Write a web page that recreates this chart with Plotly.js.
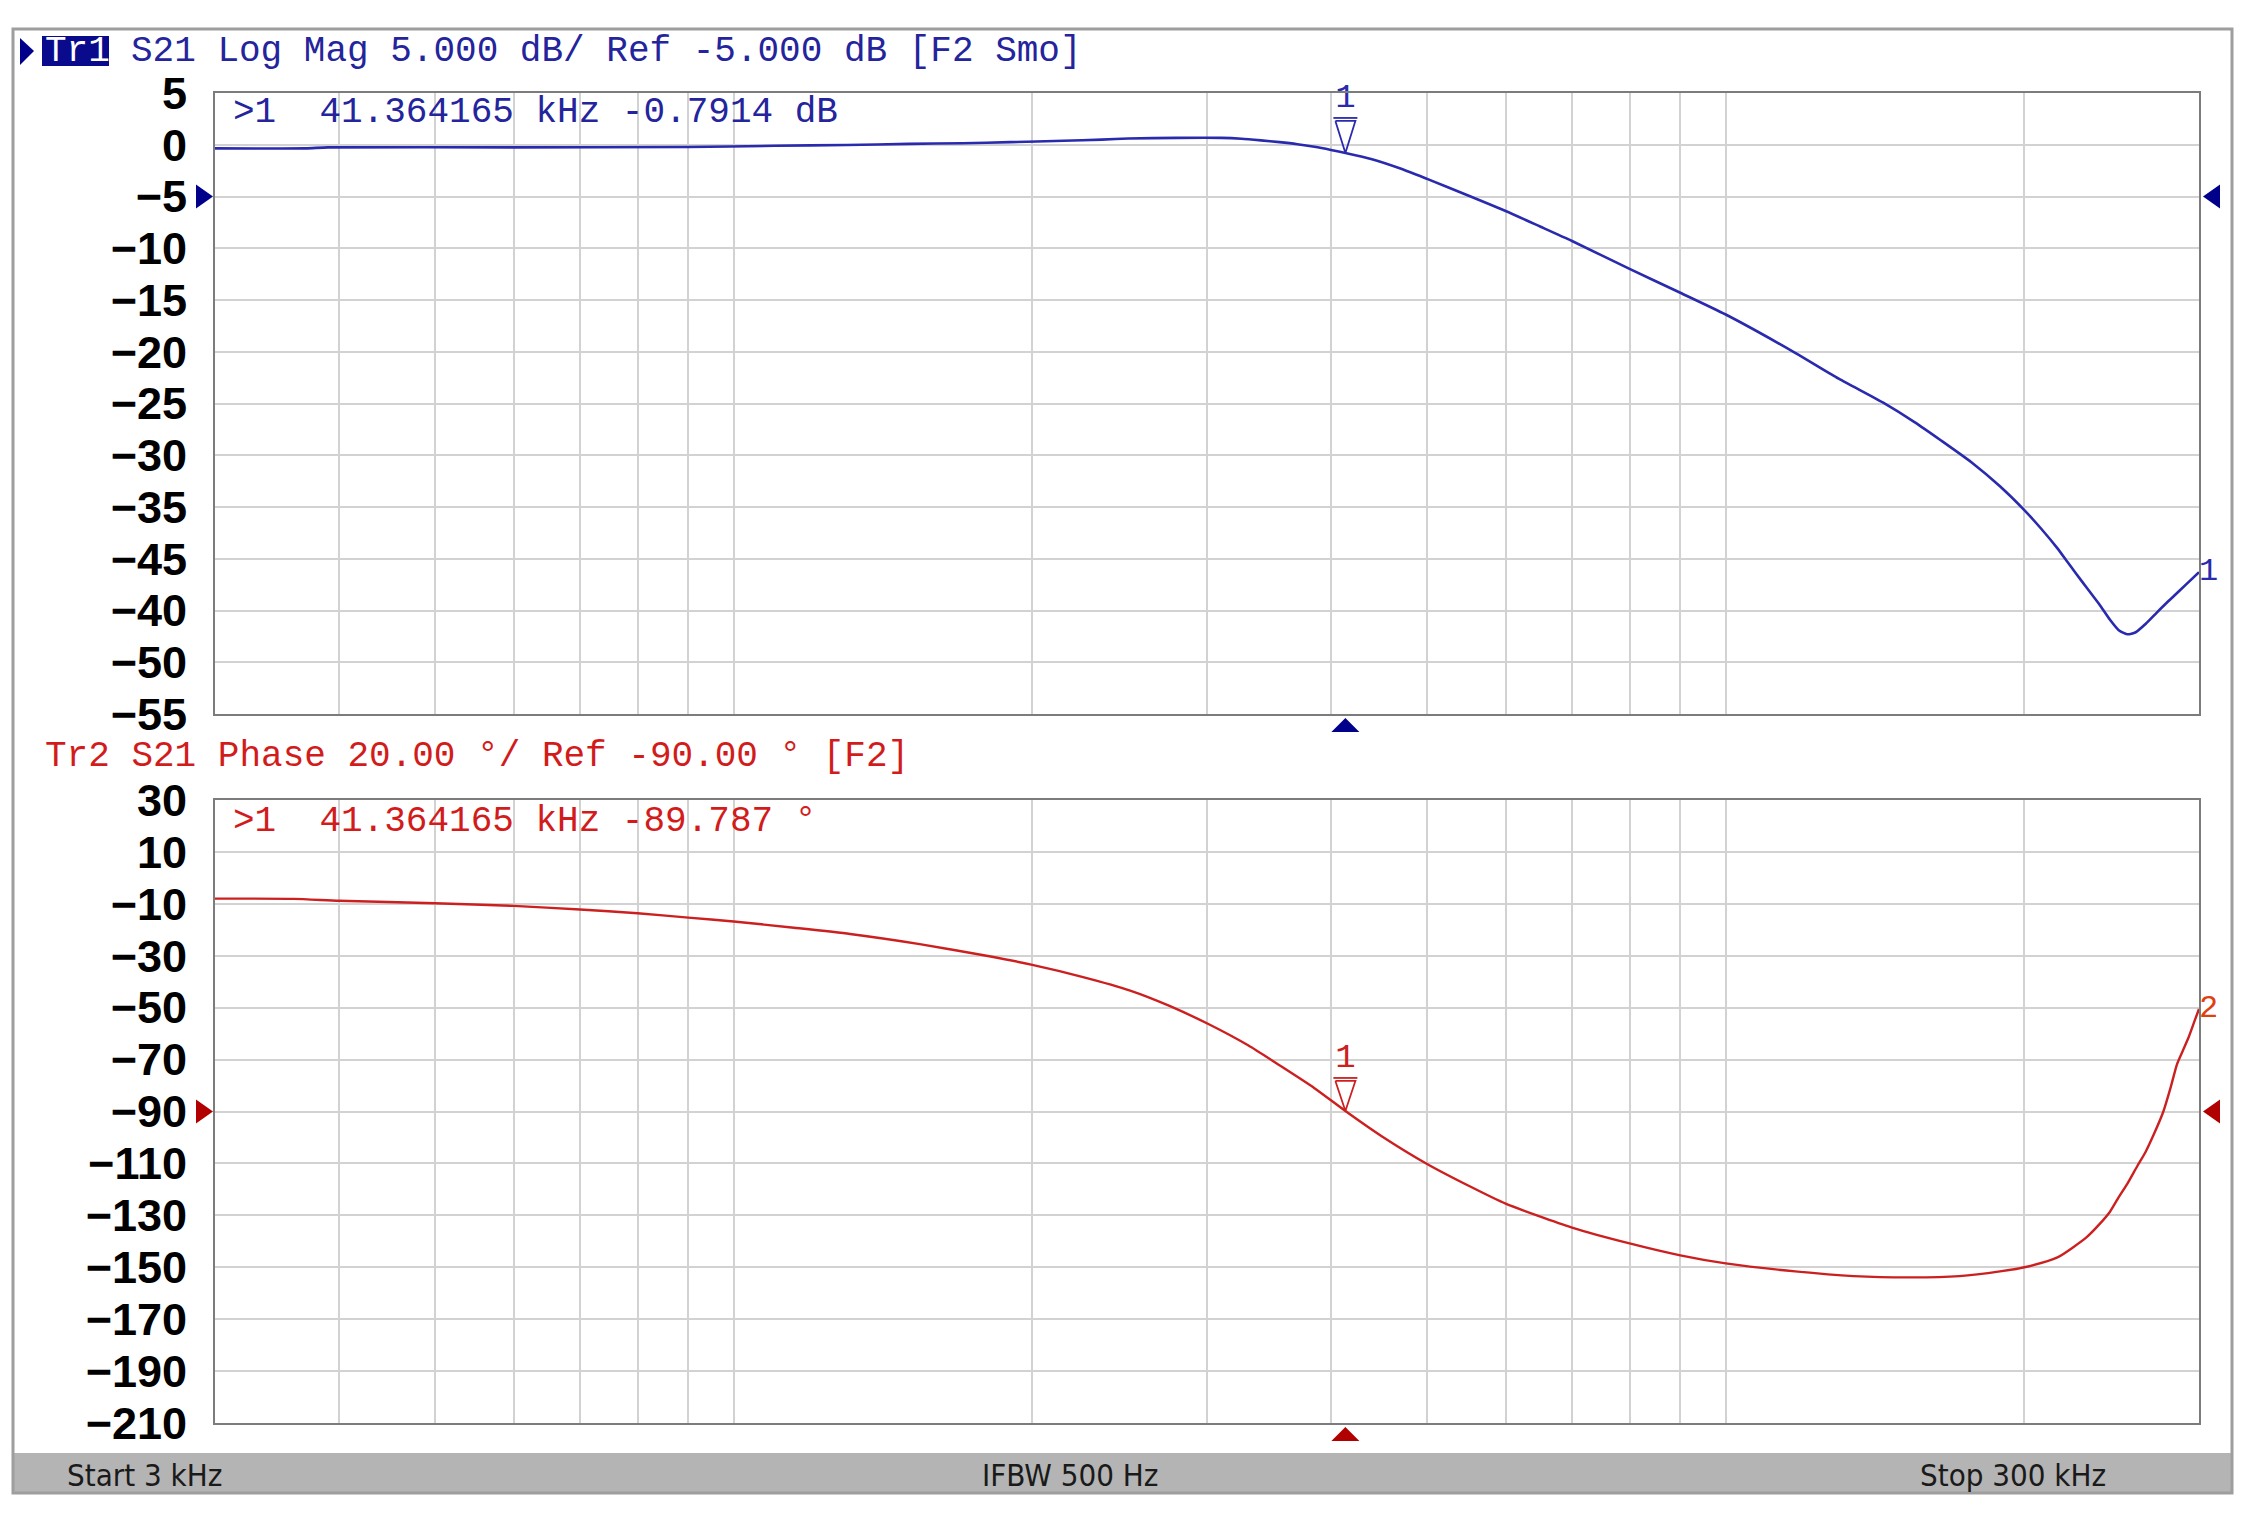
<!DOCTYPE html>
<html>
<head>
<meta charset="utf-8">
<script src="https://cdn.plot.ly/plotly-3.0.1.min.js"></script>
<style>html,body{margin:0;padding:0;background:#fff;}#chart{width:2251px;height:1520px;}</style>
</head>
<body>
<div id="chart"></div>
<script>
// ---------- DATA ----------
// S21 log magnitude (frequency in kHz, value in dB)
const magFreq = [3, 3.7, 3.9, 6, 9, 11, 13, 15, 17, 19, 21.5, 23.5, 25, 28, 31, 32.5, 34, 35.5, 37, 38.5, 40, 41.364165, 44, 47, 50, 55, 60, 65, 70, 80, 90, 100, 117.5, 130, 144, 155, 165, 177, 189, 200, 208, 216, 221, 225, 232, 238, 244, 249, 254, 259, 265, 272, 278, 283, 291, 300];
const magDb   = [-0.35, -0.35, -0.25, -0.25, -0.22, -0.1, -0.02, 0.08, 0.15, 0.25, 0.38, 0.5, 0.6, 0.66, 0.66, 0.58, 0.42, 0.25, 0.05, -0.2, -0.5, -0.7914, -1.4, -2.3, -3.3, -4.9, -6.4, -7.9, -9.3, -12.0, -14.3, -16.4, -20.1, -22.6, -24.9, -26.8, -28.6, -30.7, -33.0, -35.3, -37.1, -39.0, -40.3, -41.3, -43.0, -44.4, -45.9, -46.9, -47.3, -47.1, -46.3, -45.2, -44.3, -43.6, -42.5, -41.3];

// S21 phase (frequency in kHz, value in degrees)
const phaseFreq = [3, 3.6, 4, 5, 6, 7, 8, 9, 10, 11.5, 13.1, 15.4, 18.1, 20, 22.5, 25.1, 27.5, 30.2, 33, 35.5, 38.5, 41.364165, 45, 50, 55, 60, 70, 80, 90, 100, 117.5, 134.6, 154, 172, 189, 200, 216, 231, 238, 244, 249, 254, 260, 265, 270, 276, 281, 285, 289, 293, 297, 300];
const phaseDeg  = [-8.0, -8.1, -8.8, -9.8, -10.8, -12.2, -13.6, -15.3, -16.8, -19.2, -21.6, -25.5, -30.2, -33.5, -38.2, -43.4, -49.3, -56.6, -64.5, -72.2, -81.0, -89.787, -99.5, -110.2, -118.5, -125.5, -134.7, -140.8, -145.4, -148.5, -151.6, -153.4, -153.9, -153.4, -151.6, -150.0, -146.2, -138.5, -133.5, -128.6, -123.0, -117.9, -111.0, -105.6, -99.0, -90.3, -80.5, -71.9, -66.5, -61.2, -55.0, -50.5];

// Marker 1
const markerFreq = 41.364165;
const markerMag = -0.7914;
const markerPhase = -89.787;

// Reference levels
const magRef = -5;
const phaseRef = -90;

// Axis grid / tick definitions
const gridFreqs = [4, 5, 6, 7, 8, 9, 10, 20, 30, 40, 50, 60, 70, 80, 90, 100, 200];
const freqStart = 3, freqStop = 300;
const magTickVals  = [5, 0, -5, -10, -15, -20, -25, -30, -35, -40, -45, -50, -55];
const magTickText  = ['5', '0', '\u22125', '\u221210', '\u221215', '\u221220', '\u221225', '\u221230', '\u221235', '\u221245', '\u221240', '\u221250', '\u221255'];
const phaseTickVals = [30, 10, -10, -30, -50, -70, -90, -110, -130, -150, -170, -190, -210];
const phaseTickText = ['30', '10', '\u221210', '\u221230', '\u221250', '\u221270', '\u221290', '\u2212110', '\u2212130', '\u2212150', '\u2212170', '\u2212190', '\u2212210'];

// Texts
const title1Box = 'Tr1';
const title1 = 'S21 Log Mag 5.000 dB/ Ref -5.000 dB [F2 Smo]';
const title2 = 'Tr2 S21 Phase 20.00 \u00b0/ Ref -90.00 \u00b0 [F2]';
const readout1 = '>1\u00a0\u00a041.364165 kHz -0.7914 dB';
const readout2 = '>1\u00a0\u00a041.364165 kHz -89.787 \u00b0';
const statusTexts = ['Start 3 kHz', 'IFBW 500 Hz', 'Stop 300 kHz'];

// ---------- LAYOUT GEOMETRY ----------
const W = 2251, H = 1520;
const L = 215, R = 2199;
const T1 = 93, B1 = 714, T2 = 800, B2 = 1423;
const px = x => x / W;
const py = y => 1 - y / H;

const magMin = -55, magMax = 5, phMin = -210, phMax = 30;
const pxPerDec = (R - L) / (Math.log10(freqStop) - Math.log10(freqStart));
const dbPerPx = (magMax - magMin) / (B1 - T1);
const degPerPx = (phMax - phMin) / (B2 - T2);
const fShift = (f, dpx) => f * Math.pow(10, dpx / pxPerDec);

const BLUE = '#2a2aae', BLUE_TXT = '#24249c', NAVY = '#00008b';
const RED = '#cc2020', RED_TXT = '#d21c1c', DRED = '#b00000';
const MONO = 'Liberation Mono, DejaVu Sans Mono, monospace';

// ---------- TRACES ----------
const traces = [];
traces.push({x: magFreq, y: magDb, xaxis: 'x', yaxis: 'y', mode: 'lines', line: {color: BLUE, width: 2.6, shape: 'spline', smoothing: 0.6}, hoverinfo: 'skip'});
traces.push({x: phaseFreq, y: phaseDeg, xaxis: 'x2', yaxis: 'y2', mode: 'lines', line: {color: RED, width: 2.4, shape: 'spline', smoothing: 0.6}, hoverinfo: 'skip'});

// Marker outline triangles (tip on the trace at marker frequency)
function markerTriangle(val, unitPerPx, xa, ya, color, hpx) {
  const top = val + hpx * unitPerPx;
  const bar = val + (hpx + 3) * unitPerPx;
  return [
    {x: [fShift(markerFreq, -10), fShift(markerFreq, 10), markerFreq, fShift(markerFreq, -10)],
     y: [top, top, val, top], xaxis: xa, yaxis: ya, mode: 'lines', line: {color: color, width: 1.8}, cliponaxis: false, hoverinfo: 'skip'},
    {x: [fShift(markerFreq, -12), fShift(markerFreq, 12)], y: [bar, bar], xaxis: xa, yaxis: ya, mode: 'lines', line: {color: color, width: 1.8}, cliponaxis: false, hoverinfo: 'skip'},
    {x: [markerFreq], y: [val + (hpx + 22) * unitPerPx], xaxis: xa, yaxis: ya, mode: 'text', text: ['1'], textposition: 'middle center',
     textfont: {family: MONO, size: 34, color: color}, cliponaxis: false, hoverinfo: 'skip'}
  ];
}
traces.push(...markerTriangle(markerMag, dbPerPx, 'x', 'y', BLUE, 32));
traces.push(...markerTriangle(markerPhase, degPerPx, 'x2', 'y2', RED, 30));

// Trace-end labels
traces.push({x: [magFreq[magFreq.length - 1]], y: [magDb[magDb.length - 1]], xaxis: 'x', yaxis: 'y', mode: 'text', text: ['1'],
  textposition: 'middle right', textfont: {family: MONO, size: 32, color: BLUE}, cliponaxis: false, hoverinfo: 'skip'});
traces.push({x: [phaseFreq[phaseFreq.length - 1]], y: [phaseDeg[phaseDeg.length - 1]], xaxis: 'x2', yaxis: 'y2', mode: 'text', text: ['2'],
  textposition: 'middle right', textfont: {family: MONO, size: 32, color: '#e04010'}, cliponaxis: false, hoverinfo: 'skip'});

// ---------- AXES ----------
function xAxis(anchor) {
  return {domain: [px(L), px(R)], type: 'log', range: [Math.log10(freqStart), Math.log10(freqStop)], anchor: anchor,
    tickmode: 'array', tickvals: gridFreqs, showticklabels: false, ticks: '', showgrid: true, gridcolor: '#d2d2d2', gridwidth: 2,
    showline: true, mirror: true, linecolor: '#7c7c7c', linewidth: 2, zeroline: false, fixedrange: true};
}
function yAxis(anchor, top, bottom, rng, vals, texts) {
  return {domain: [py(bottom), py(top)], range: rng, anchor: anchor, tickmode: 'array', tickvals: vals, ticktext: texts,
    ticks: '', ticklabelstandoff: 17, tickfont: {family: 'Liberation Sans, Arial, sans-serif', size: 45, color: '#000', weight: 'bold'},
    showgrid: true, gridcolor: '#d2d2d2', gridwidth: 2, showline: true, mirror: true, linecolor: '#7c7c7c', linewidth: 2,
    zeroline: false, fixedrange: true};
}

// ---------- SHAPES / ANNOTATIONS ----------
const shapes = [
  // status bar
  {type: 'rect', xref: 'paper', yref: 'paper', x0: px(13), x1: px(2232), y0: py(1493), y1: py(1453), fillcolor: '#b4b4b4', line: {width: 0}, layer: 'below'},
  // outer frame
  {type: 'rect', xref: 'paper', yref: 'paper', x0: px(13), x1: px(2232), y0: py(1493), y1: py(29), fillcolor: 'rgba(0,0,0,0)', line: {color: '#9e9e9e', width: 3}, layer: 'below'},
  // Tr1 highlight box
  {type: 'rect', xref: 'paper', yref: 'paper', x0: px(42), x1: px(109), y0: py(66), y1: py(36), fillcolor: '#0a0a8c', line: {width: 0}, layer: 'above'},
  // active trace pointer
  {type: 'path', xref: 'paper', yref: 'paper', path: `M ${px(20)} ${py(38)} L ${px(34)} ${py(51)} L ${px(20)} ${py(65)} Z`, fillcolor: NAVY, line: {width: 0}, layer: 'above'},
  // white box behind phase marker readout
  {type: 'rect', xref: 'paper', yref: 'paper', x0: px(L + 2), x1: px(825), y0: py(848), y1: py(T2 + 2), fillcolor: '#ffffff', line: {width: 0}, layer: 'between'},
  // reference level indicators (anchored to the reference value on each y axis)
  {type: 'path', xref: 'paper', yref: 'y', ysizemode: 'pixel', yanchor: magRef, path: `M ${px(196)} 12 L ${px(213)} 0 L ${px(196)} -12 Z`, fillcolor: NAVY, line: {width: 0}, layer: 'above'},
  {type: 'path', xref: 'paper', yref: 'y', ysizemode: 'pixel', yanchor: magRef, path: `M ${px(2220)} 12 L ${px(2203)} 0 L ${px(2220)} -12 Z`, fillcolor: NAVY, line: {width: 0}, layer: 'above'},
  {type: 'path', xref: 'paper', yref: 'y2', ysizemode: 'pixel', yanchor: phaseRef, path: `M ${px(196)} 12 L ${px(213)} 0 L ${px(196)} -12 Z`, fillcolor: DRED, line: {width: 0}, layer: 'above'},
  {type: 'path', xref: 'paper', yref: 'y2', ysizemode: 'pixel', yanchor: phaseRef, path: `M ${px(2220)} 12 L ${px(2203)} 0 L ${px(2220)} -12 Z`, fillcolor: DRED, line: {width: 0}, layer: 'above'},
  // marker position indicators below each plot (anchored to the marker frequency)
  {type: 'path', xref: 'x', xsizemode: 'pixel', xanchor: markerFreq, yref: 'paper', path: `M -14 ${py(732)} L 14 ${py(732)} L 0 ${py(718)} Z`, fillcolor: NAVY, line: {width: 0}, layer: 'above'},
  {type: 'path', xref: 'x2', xsizemode: 'pixel', xanchor: markerFreq, yref: 'paper', path: `M -14 ${py(1441)} L 14 ${py(1441)} L 0 ${py(1427)} Z`, fillcolor: DRED, line: {width: 0}, layer: 'above'}
];

function ann(text, x, y, color, size, family, anchor) {
  return {xref: 'paper', yref: 'paper', x: px(x), y: py(y), xanchor: anchor || 'left', yanchor: 'middle', text: text,
    showarrow: false, font: {family: family || MONO, size: size || 36, color: color}};
}
const STATUS_FONT = 'DejaVu Sans Condensed, Liberation Sans Narrow, Liberation Sans, sans-serif';
const annotations = [
  ann(title1Box, 43, 51, '#ffffff'),
  ann(title1, 129, 51, BLUE_TXT),
  ann(title2, 43, 756, RED_TXT),
  ann(readout1, 231, 113, BLUE_TXT),
  ann(readout2, 231, 822, RED_TXT),
  ann(statusTexts[0], 65, 1475, '#1a1a1a', 31, STATUS_FONT),
  ann(statusTexts[1], 1070, 1475, '#1a1a1a', 31, STATUS_FONT, 'center'),
  ann(statusTexts[2], 2013, 1475, '#1a1a1a', 31, STATUS_FONT, 'center')
];

const layout = {
  width: W, height: H, margin: {l: 0, r: 0, t: 0, b: 0, pad: 0},
  paper_bgcolor: '#ffffff', plot_bgcolor: '#ffffff', showlegend: false,
  xaxis: xAxis('y'), yaxis: yAxis('x', T1, B1, [magMin, magMax], magTickVals, magTickText),
  xaxis2: xAxis('y2'), yaxis2: yAxis('x2', T2, B2, [phMin, phMax], phaseTickVals, phaseTickText),
  shapes: shapes, annotations: annotations
};

Plotly.newPlot('chart', traces, layout, {staticPlot: true, displayModeBar: false});
</script>
</body>
</html>
